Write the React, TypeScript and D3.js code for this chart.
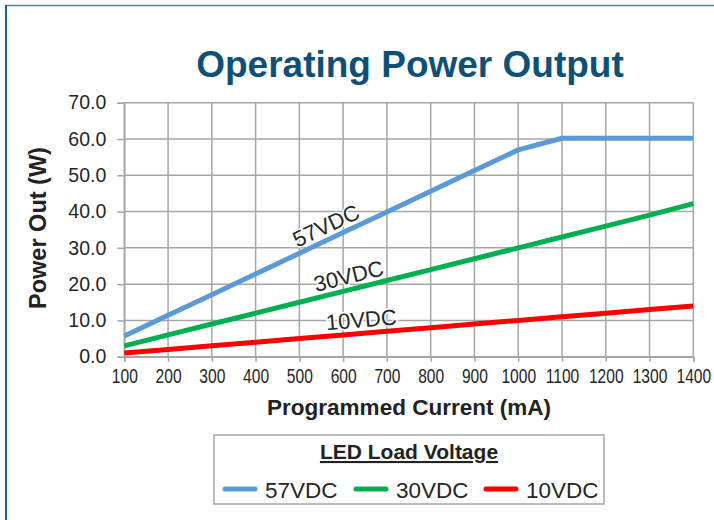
import { useEffect, useRef } from "react";
import * as d3 from "d3";

// Programmed current (mA) on the x axis
const currents = [100, 200, 300, 400, 500, 600, 700, 800, 900, 1000, 1100, 1200, 1300, 1400];

// Power out (W) per LED load voltage
const power57 = [5.7, 11.4, 17.1, 22.8, 28.5, 34.2, 39.9, 45.6, 51.3, 57.0, 60.2, 60.2, 60.2, 60.2];
const power30 = [3, 6, 9, 12, 15, 18, 21, 24, 27, 30, 33, 36, 39, 42.2];
const power10 = [1, 2, 3, 4, 5, 6, 7, 8, 9, 10, 11, 12, 13, 14];

const seriesNames = ["57VDC", "30VDC", "10VDC"];
const seriesColors = ["#5b9bd5", "#00b050", "#ff0000"];

const yTicks = [0, 10, 20, 30, 40, 50, 60, 70];

// where the in-chart labels sit (mA along the line)
const labelAt = [574, 620, 644];

export default function App() {
    const svgRef = useRef<SVGSVGElement>(null);

    useEffect(() => {
        const width = 714;
        const height = 520;
        const margin = { top: 102.7, right: 20.7, bottom: 163.3, left: 124.3 };
        const font = "'Liberation Sans', Arial, sans-serif";

        const svg = d3.select(svgRef.current)
            .attr("width", width)
            .attr("height", height)
            .style("background", "#ffffff");

        svg.selectAll("*").remove();

        // outer frame (top + left only)
        svg.append("line")
            .attr("x1", 5).attr("x2", width).attr("y1", 5.5).attr("y2", 5.5)
            .attr("stroke", "#5a809c").attr("stroke-width", 1.5);
        svg.append("line")
            .attr("x1", 6).attr("x2", 6).attr("y1", 5).attr("y2", height)
            .attr("stroke", "#1d6189").attr("stroke-width", 2);

        const x = d3.scaleLinear()
            .domain([100, 1400])
            .range([margin.left, width - margin.right]);

        const y = d3.scaleLinear()
            .domain([0, 70])
            .range([height - margin.bottom, margin.top]);

        // title
        svg.append("text")
            .attr("x", 410).attr("y", 77)
            .attr("text-anchor", "middle")
            .attr("font-family", font)
            .attr("font-weight", "bold")
            .attr("font-size", 37)
            .attr("fill", "#0f5079")
            .text("Operating Power Output");

        // gridlines
        const grid = svg.append("g").attr("stroke", "#a6a6a6").attr("stroke-width", 1.5);
        grid.selectAll(".vg").data(currents).join("line")
            .attr("x1", d => x(d)).attr("x2", d => x(d))
            .attr("y1", y(70)).attr("y2", y(0));
        grid.selectAll(".hg").data(yTicks).join("line")
            .attr("x1", x(100)).attr("x2", x(1400))
            .attr("y1", d => y(d)).attr("y2", d => y(d));

        // axes
        const xAxis = svg.append("g")
            .attr("transform", `translate(0, ${y(0)})`)
            .call(d3.axisBottom(x).tickValues(currents).tickSize(5).tickFormat(d3.format("d")));
        const yAxis = svg.append("g")
            .attr("transform", `translate(${x(100)}, 0)`)
            .call(d3.axisLeft(y).tickValues(yTicks).tickSize(7).tickPadding(11).tickFormat(d3.format(".1f")));

        [xAxis, yAxis].forEach(ax => {
            ax.select(".domain").attr("stroke", "#a6a6a6").attr("stroke-width", 1.5);
            ax.selectAll(".tick line").attr("stroke", "#a6a6a6").attr("stroke-width", 1.5);
            ax.selectAll(".tick text")
                .attr("fill", "#262626")
                .attr("font-family", font)
                .attr("font-size", 19.5);
        });
        // x tick labels are condensed in the original
        xAxis.selectAll(".tick text")
            .attr("y", 26).attr("dy", null)
            .attr("transform", "scale(0.8,1)");

        // axis titles
        svg.append("text")
            .attr("x", 409).attr("y", 415)
            .attr("text-anchor", "middle")
            .attr("font-family", font).attr("font-weight", "bold").attr("font-size", 22.5)
            .attr("fill", "#222")
            .text("Programmed Current (mA)");
        svg.append("text")
            .attr("transform", "translate(46, 228) rotate(-90)")
            .attr("text-anchor", "middle")
            .attr("font-family", font).attr("font-weight", "bold").attr("font-size", 23.5)
            .attr("fill", "#222")
            .text("Power Out (W)");

        const series = [power57, power30, power10];

        const line = d3.line<number>()
            .x((_, i) => x(currents[i]))
            .y(d => y(d));

        series.forEach((vals, i) => {
            svg.append("path")
                .datum(vals)
                .attr("fill", "none")
                .attr("stroke", seriesColors[i])
                .attr("stroke-width", 5)
                .attr("stroke-linejoin", "round")
                .attr("d", line);
        });

        // labels along lines
        series.forEach((vals, i) => {
            const interp = d3.scaleLinear().domain(currents).range(vals);
            const mA = labelAt[i];
            const px = x(mA);
            const py = y(interp(mA));
            const slope = (y(interp(mA + 50)) - y(interp(mA - 50))) / (x(mA + 50) - x(mA - 50));
            const angle = Math.atan(slope) * 180 / Math.PI;
            svg.append("text")
                .attr("transform", `translate(${px}, ${py}) rotate(${angle})`)
                .attr("x", 0).attr("y", -6)
                .attr("text-anchor", "middle")
                .attr("font-family", font).attr("font-size", 22)
                .attr("fill", "#262626")
                .attr("stroke", "#ffffff").attr("stroke-width", 3)
                .attr("paint-order", "stroke")
                .text(seriesNames[i]);
        });

        // legend
        const lg = svg.append("g");
        lg.append("rect")
            .attr("x", 214).attr("y", 435).attr("width", 390).attr("height", 69)
            .attr("fill", "#fff").attr("stroke", "#a6a6a6").attr("stroke-width", 1.5);
        lg.append("text")
            .attr("x", 409).attr("y", 459)
            .attr("text-anchor", "middle")
            .attr("font-family", font).attr("font-weight", "bold").attr("font-size", 21)
            .attr("fill", "#222")
            .attr("text-decoration", "underline")
            .text("LED Load Voltage");
        const legendX = [223, 354, 484];
        seriesNames.forEach((name, i) => {
            lg.append("line")
                .attr("x1", legendX[i] + 2).attr("x2", legendX[i] + 32)
                .attr("y1", 489).attr("y2", 489)
                .attr("stroke", seriesColors[i]).attr("stroke-width", 5)
                .attr("stroke-linecap", "round");
            lg.append("text")
                .attr("x", legendX[i] + 42).attr("y", 497.5)
                .attr("font-family", font).attr("font-size", 22.5)
                .attr("fill", "#262626")
                .text(name);
        });
    }, []);

    return <svg ref={svgRef} style={{ position: "absolute", left: 0, top: 0 }}></svg>;
}
